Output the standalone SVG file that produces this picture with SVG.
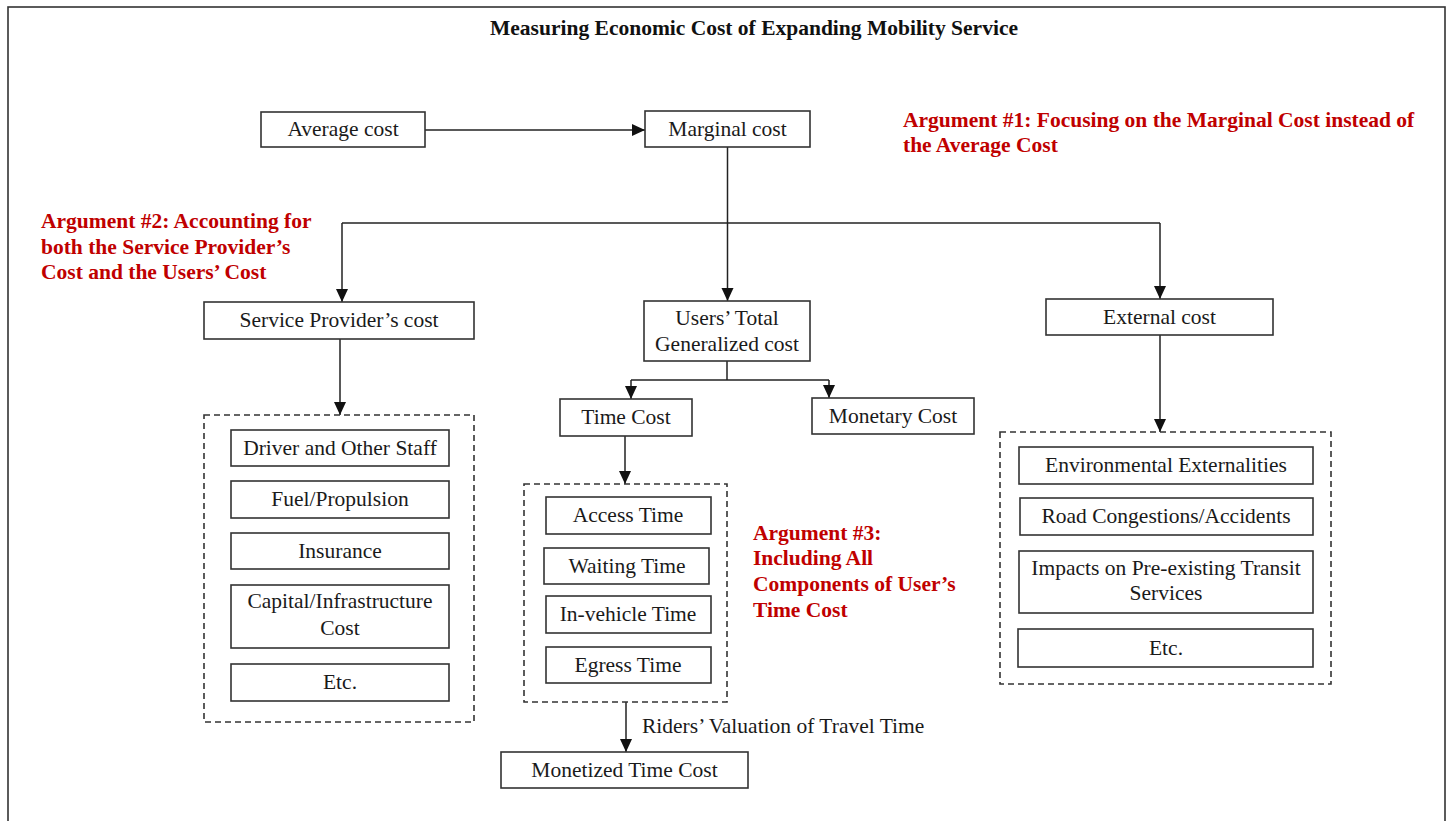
<svg xmlns="http://www.w3.org/2000/svg" width="1452" height="821" viewBox="0 0 1452 821">
<style>
text{font-family:"Liberation Serif","Times New Roman",serif;font-size:21.5px;fill:#1a1a1a;text-anchor:middle}
.title{font-weight:bold;fill:#111}
.arg{font-weight:bold;fill:#c00000;text-anchor:start}
.lbl{text-anchor:start}
.box{fill:#fff;stroke:#333;stroke-width:1.6}
.dash{fill:none;stroke:#333;stroke-width:1.6;stroke-dasharray:6 4}
.conn line{fill:none;stroke:#222;stroke-width:1.5}
</style>
<defs>
<marker id="ah" markerUnits="userSpaceOnUse" markerWidth="14" markerHeight="14" viewBox="0 0 14 14" refX="13" refY="7" orient="auto">
<path d="M0,1 L13,7 L0,13 Z" fill="#111"/>
</marker>
</defs>
<rect width="1452" height="821" fill="#fff"/>
<rect x="8" y="7" width="1437" height="830" fill="none" stroke="#333" stroke-width="1.6"/>
<text class="title" x="754" y="35">Measuring Economic Cost of Expanding Mobility Service</text>

<g class="conn">
<line x1="425" y1="130" x2="645" y2="130" marker-end="url(#ah)"/>
<line x1="727.5" y1="147" x2="727.5" y2="301" marker-end="url(#ah)"/>
<line x1="342" y1="223" x2="1160" y2="223"/>
<line x1="342" y1="223" x2="342" y2="302" marker-end="url(#ah)"/>
<line x1="1160" y1="223" x2="1160" y2="299" marker-end="url(#ah)"/>
<line x1="727" y1="361" x2="727" y2="380"/>
<line x1="631" y1="380" x2="829" y2="380"/>
<line x1="631" y1="380" x2="631" y2="399" marker-end="url(#ah)"/>
<line x1="829" y1="380" x2="829" y2="398" marker-end="url(#ah)"/>
<line x1="340" y1="339" x2="340" y2="415" marker-end="url(#ah)"/>
<line x1="625" y1="436" x2="625" y2="484" marker-end="url(#ah)"/>
<line x1="1160" y1="335" x2="1160" y2="432" marker-end="url(#ah)"/>
<line x1="626" y1="702" x2="626" y2="752" marker-end="url(#ah)"/>
<text class="lbl" x="642" y="733">Riders’ Valuation of Travel Time</text>
</g>

<g id="average-cost"><rect class="box" x="261" y="112" width="164" height="35"/><text x="343" y="136">Average cost</text></g>
<g id="marginal-cost"><rect class="box" x="645" y="111" width="165" height="36"/><text x="727.5" y="136">Marginal cost</text></g>
<g id="arg1"><text class="arg" x="903" y="127">Argument #1: Focusing on the Marginal Cost instead of</text><text class="arg" x="903" y="152">the Average Cost</text></g>
<g id="arg2"><text class="arg" x="41" y="228">Argument #2: Accounting for</text><text class="arg" x="41" y="254">both the Service Provider’s</text><text class="arg" x="41" y="279">Cost and the Users’ Cost</text></g>

<g id="service-provider-cost"><rect class="box" x="204" y="302" width="270" height="37"/><text x="339" y="327">Service Provider’s cost</text></g>
<g id="users-total-cost"><rect class="box" x="644" y="301" width="166" height="60"/><text x="727" y="325">Users’ Total</text><text x="727" y="351">Generalized cost</text></g>
<g id="external-cost"><rect class="box" x="1046" y="299" width="227" height="36"/><text x="1159.5" y="324">External cost</text></g>

<g id="provider-group">
<rect class="dash" x="204" y="415" width="270" height="307"/>
<rect class="box" x="231" y="430" width="218" height="36"/><text x="340" y="455">Driver and Other Staff</text>
<rect class="box" x="231" y="481" width="218" height="37"/><text x="340" y="506">Fuel/Propulsion</text>
<rect class="box" x="231" y="533" width="218" height="36"/><text x="340" y="558">Insurance</text>
<rect class="box" x="231" y="585" width="218" height="63"/><text x="340" y="608">Capital/Infrastructure</text><text x="340" y="635">Cost</text>
<rect class="box" x="231" y="664" width="218" height="37"/><text x="340" y="689">Etc.</text>
</g>

<g id="time-cost"><rect class="box" x="560" y="399" width="132" height="37"/><text x="626" y="424">Time Cost</text></g>
<g id="monetary-cost"><rect class="box" x="812" y="398" width="162" height="36"/><text x="893" y="423">Monetary Cost</text></g>

<g id="time-group">
<rect class="dash" x="524" y="484" width="203" height="218"/>
<rect class="box" x="546" y="497" width="165" height="37"/><text x="628" y="522">Access Time</text>
<rect class="box" x="544" y="548" width="165" height="36"/><text x="627" y="573">Waiting Time</text>
<rect class="box" x="546" y="596" width="165" height="37"/><text x="628" y="621">In-vehicle Time</text>
<rect class="box" x="546" y="647" width="165" height="36"/><text x="628" y="672">Egress Time</text>
</g>
<g id="arg3"><text class="arg" x="753" y="540">Argument #3:</text><text class="arg" x="753" y="565">Including All</text><text class="arg" x="753" y="591">Components of User’s</text><text class="arg" x="753" y="617">Time Cost</text></g>
<g id="monetized-time-cost"><rect class="box" x="501" y="752" width="247" height="36"/><text x="624.5" y="777">Monetized Time Cost</text></g>

<g id="external-group">
<rect class="dash" x="1000" y="432" width="331" height="252"/>
<rect class="box" x="1019" y="447" width="294" height="37"/><text x="1166" y="472">Environmental Externalities</text>
<rect class="box" x="1020" y="498" width="293" height="37"/><text x="1166" y="523">Road Congestions/Accidents</text>
<rect class="box" x="1019" y="551" width="294" height="62"/><text x="1166" y="575">Impacts on Pre-existing Transit</text><text x="1166" y="600">Services</text>
<rect class="box" x="1018" y="629" width="295" height="38"/><text x="1166" y="655">Etc.</text>
</g>
</svg>
